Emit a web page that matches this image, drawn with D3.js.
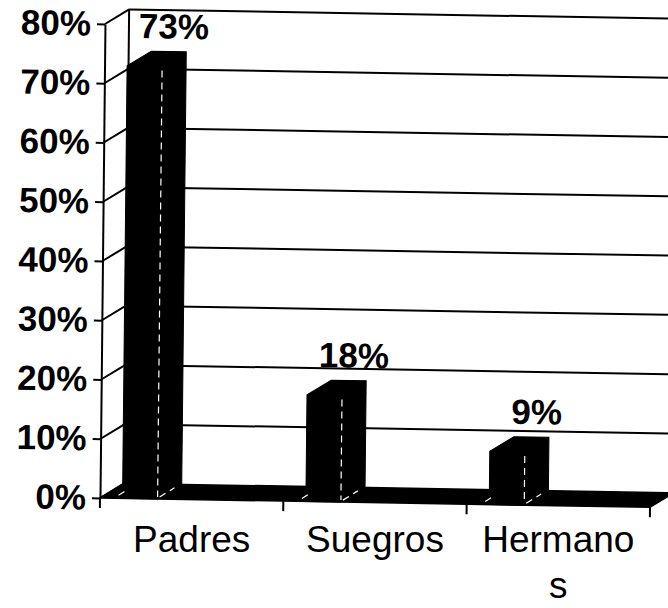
<!DOCTYPE html>
<html>
<head>
<meta charset="utf-8">
<script src="https://cdn.jsdelivr.net/npm/d3@7"></script>
<style>
  html, body { margin: 0; padding: 0; background: #fff; }
  svg { display: block; }
  text { font-family: "Liberation Sans", Arial, Helvetica, sans-serif; fill: #000; }
</style>
</head>
<body>
<script>
// ---- data ----
const categories = ["Padres", "Suegros", "Hermanos"];
const values = [0.73, 0.18, 0.09];
const valueLabels = ["73%", "18%", "9%"];
const yTicks = [0, 0.1, 0.2, 0.3, 0.4, 0.5, 0.6, 0.7, 0.8];
const yTickLabels = ["0%", "10%", "20%", "30%", "40%", "50%", "60%", "70%", "80%"];

// ---- layout ----
const W = 668, H = 608;
const DX = 24, DY = -15;           // 3D depth offset
const svg = d3.select("body").append("svg").attr("width", W).attr("height", H);

const y = d3.scaleLinear().domain([0, 0.8]).range([498, 24]);
const x = d3.scaleBand().domain(categories).range([100, 650]).paddingInner(0).paddingOuter(0);
const bw = x.bandwidth();
const barOff = 0.123 * bw, barW = 0.191 * bw;
const x0 = x.range()[0], x1 = x.range()[1];
const yBase = y(0);

// slight scan skew of the original
const b = 0.017, c = -0.0105;
const g = svg.append("g")
  .attr("transform", `matrix(1,${b},${c},1,${-c * yBase},${-b * x0})`);

// back wall gridlines
g.append("g").selectAll("line").data(yTicks.filter(d => d > 0)).join("line")
  .attr("x1", x0 + DX).attr("x2", x1 + DX + 20)
  .attr("y1", d => y(d) + DY).attr("y2", d => y(d) + DY)
  .attr("stroke", "#000").attr("stroke-width", 2);

// back wall left edge
g.append("line")
  .attr("x1", x0 + DX).attr("x2", x0 + DX)
  .attr("y1", y(0) + DY).attr("y2", y(0.8) + DY)
  .attr("stroke", "#000").attr("stroke-width", 2);

// side wall diagonals
g.append("g").selectAll("line").data(yTicks).join("line")
  .attr("x1", x0).attr("x2", x0 + DX)
  .attr("y1", d => y(d)).attr("y2", d => y(d) + DY)
  .attr("stroke", "#000").attr("stroke-width", 2);

// y axis
const yAxis = d3.axisLeft(y).tickValues(yTicks)
  .tickFormat((d, i) => yTickLabels[i])
  .tickSize(8).tickSizeOuter(0).tickPadding(6);
const ya = g.append("g").attr("transform", `translate(${x0},0)`).call(yAxis);
ya.select(".domain").attr("stroke", "#000").attr("stroke-width", 2);
ya.selectAll(".tick line").attr("stroke", "#000").attr("stroke-width", 2);
ya.selectAll(".tick text")
  .style("font-family", '"Liberation Sans", Arial, sans-serif')
  .style("font-size", "35px").style("font-weight", "bold").attr("fill", "#000");

// floor
g.append("path")
  .attr("d", `M${x0},${yBase}L${x1},${yBase}L${x1 + DX},${yBase + DY}L${x0 + DX},${yBase + DY}Z`)
  .attr("fill", "#000").attr("stroke", "#000").attr("stroke-width", 1.5);

// category boundary ticks
const bounds = categories.map(d => x(d)).concat([x1]);
g.append("g").selectAll("line").data(bounds).join("line")
  .attr("x1", d => d).attr("x2", d => d)
  .attr("y1", yBase).attr("y2", yBase + 10)
  .attr("stroke", "#000").attr("stroke-width", 2);

// bars
const bars = categories.map((cat, i) => {
  const bx = x(cat) + barOff;
  const yt = y(values[i]);
  return { bx, yt, v: values[i], label: valueLabels[i] };
});
g.append("g").selectAll("path").data(bars).join("path")
  .attr("d", d => {
    const r = d.bx + barW;
    return `M${d.bx},${yBase}L${d.bx},${d.yt}L${d.bx + DX},${d.yt + DY}` +
      `L${r + DX},${d.yt + DY}L${r + DX},${yBase + DY}L${r},${yBase}Z`;
  })
  .attr("fill", "#000").attr("stroke", "#000").attr("stroke-width", 1);

// faint white edges (front/side edge and base diagonals)
const edges = g.append("g").attr("stroke", "#fff").attr("stroke-width", 1.2)
  .attr("stroke-dasharray", "7,5").attr("fill", "none");
edges.selectAll("line.v").data(bars).join("line").attr("class", "v")
  .attr("x1", d => d.bx + barW).attr("x2", d => d.bx + barW)
  .attr("y1", d => d.yt + 4).attr("y2", yBase - 2);
edges.selectAll("line.r").data(bars).join("line").attr("class", "r")
  .attr("x1", d => d.bx + barW + 2).attr("x2", d => d.bx + barW + DX * 0.7)
  .attr("y1", yBase - 2).attr("y2", yBase + DY * 0.7 - 1);
edges.selectAll("line.l").data(bars).join("line").attr("class", "l")
  .attr("x1", d => d.bx - 4).attr("x2", d => d.bx + 2)
  .attr("y1", yBase - 3).attr("y2", yBase - 7);

// value labels
g.append("g").selectAll("text").data(bars).join("text")
  .attr("x", d => d.bx + barW / 2 + DX + 5)
  .attr("y", d => d.yt + DY - 13)
  .attr("text-anchor", "middle")
  .style("font-size", "35px").style("font-weight", "bold")
  .text(d => d.label);

// category labels (flat), wrapped by character when too wide
const maxW = 160;
const cl = svg.append("g");
categories.forEach(cat => {
  const t = cl.append("text").attr("x", x(cat) + bw / 2).attr("y", 552)
    .attr("text-anchor", "middle").style("font-size", "37px");
  const lines = [];
  let cur = "";
  const probe = t.append("tspan");
  for (const ch of cat) {
    probe.text(cur + ch);
    if (probe.node().getComputedTextLength() > maxW && cur.length) {
      lines.push(cur); cur = ch;
    } else cur += ch;
  }
  lines.push(cur);
  probe.remove();
  lines.forEach((ln, k) => {
    t.append("tspan").attr("x", x(cat) + bw / 2).attr("dy", k === 0 ? 0 : 46).text(ln);
  });
});
</script>
</body>
</html>
